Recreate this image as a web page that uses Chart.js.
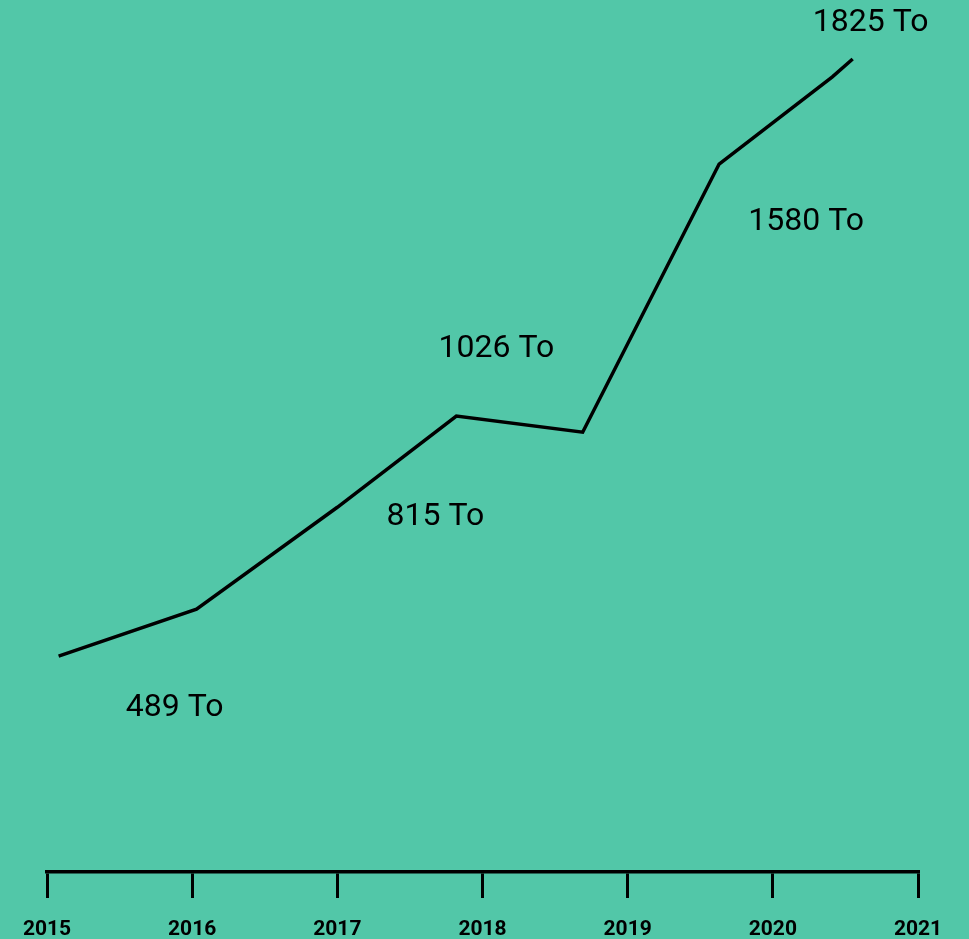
<!DOCTYPE html>
<html>
<head>
<meta charset="utf-8">
<script src="https://cdn.jsdelivr.net/npm/chart.js@4.4.1/dist/chart.umd.min.js"></script>
<style>
  html, body { margin: 0; padding: 0; background: #52c7a8; }
  #wrap { width: 969px; height: 939px; }
</style>
</head>
<body>
<div id="wrap"><canvas id="chart"></canvas></div>
<script>
// --- Data ---
const yearTicks = [2015, 2016, 2017, 2018, 2019, 2020, 2021];
const lineYears = [2015.08, 2016.03, 2017.0, 2017.82, 2018.69, 2019.63, 2020.41, 2020.55];
const lineValues = [489, 594, 822, 1026, 990, 1590, 1785, 1825];
const labelTexts = ['489 To', '815 To', '1026 To', '1580 To', '1825 To'];
const labelPoints = [0, 2, 3, 5, 7];

// label offsets in pixels from the point they belong to
const labelOffsets = [[116, 52], [98, 10], [40, -67], [87, 58], [18, -36]];

const valueLabels = {
    id: 'valueLabels',
    afterDatasetsDraw(chart) {
        const ctx = chart.ctx;
        const meta = chart.getDatasetMeta(0);
        ctx.save();
        ctx.fillStyle = '#000';
        ctx.font = '32px Roboto';
        ctx.textAlign = 'center';
        ctx.textBaseline = 'middle';
        labelTexts.forEach((t, i) => {
            const p = meta.data[labelPoints[i]];
            ctx.fillText(t, p.x + labelOffsets[i][0], p.y + labelOffsets[i][1]);
        });
        ctx.restore();
    }
};

new Chart(document.getElementById('chart'), {
    type: 'line',
    data: {
        datasets: [{
            data: lineYears.map((x, i) => ({ x: x, y: lineValues[i] })),
            borderColor: '#000',
            borderWidth: 3.5,
            pointRadius: 0,
            tension: 0,
            fill: false
        }]
    },
    options: {
        responsive: true,
        maintainAspectRatio: false,
        animation: false,
        layout: { padding: { left: 47, right: 51, top: 0, bottom: 0 } },
        plugins: { legend: { display: false }, tooltip: { enabled: false } },
        scales: {
            x: {
                type: 'linear',
                min: 2015,
                max: 2021,
                afterBuildTicks: (axis) => { axis.ticks = yearTicks.map(v => ({ value: v })); },
                afterFit: (axis) => { axis.height = 67; },
                grid: { drawOnChartArea: false, drawTicks: true, tickLength: 26, color: '#000', lineWidth: 3 },
                border: { display: true, color: '#000', width: 3.5 },
                ticks: {
                    color: '#000',
                    padding: 19,
                    maxRotation: 0,
                    font: { family: 'Roboto', size: 21, weight: 'bold' },
                    callback: (v) => String(v)
                }
            },
            y: {
                display: false,
                min: 6,
                max: 1957
            }
        }
    },
    plugins: [valueLabels]
});
</script>
</body>
</html>
